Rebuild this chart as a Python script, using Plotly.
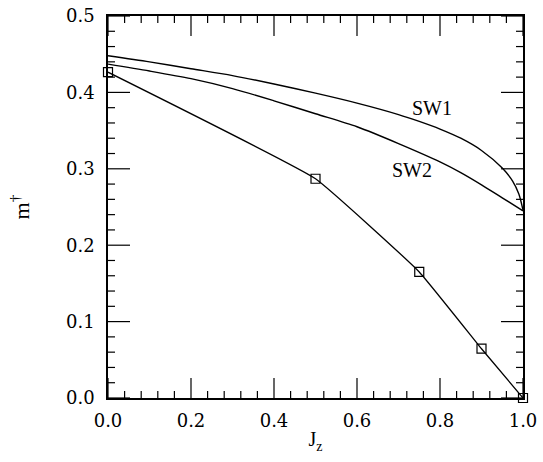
import plotly.graph_objects as go

# Data
jz_points = [0.0, 0.5, 0.75, 0.9, 1.0]
m_points = [0.4265, 0.287, 0.165, 0.0645, 0.0]

sw1_x = [0.0, 0.1, 0.2, 0.3, 0.4, 0.5, 0.6, 0.7, 0.75, 0.8, 0.85, 0.9, 0.95, 0.975, 0.99, 1.0]
sw1_y = [0.448, 0.440, 0.431, 0.422, 0.411, 0.399, 0.386, 0.371, 0.362, 0.352, 0.340, 0.324, 0.301, 0.284, 0.267, 0.246]

sw2_x = [0.0, 0.1, 0.2, 0.3, 0.4, 0.5, 0.6, 0.7, 0.8, 0.85, 0.9, 0.95, 1.0]
sw2_y = [0.437, 0.428, 0.418, 0.405, 0.389, 0.372, 0.355, 0.333, 0.309, 0.295, 0.279, 0.262, 0.245]

labels = ["SW1", "SW2"]
label_x = [0.78, 0.733]
label_y = [0.379, 0.298]

x_major = [0.0, 0.2, 0.4, 0.6, 0.8, 1.0]
x_minor = [0.04, 0.08, 0.12, 0.16, 0.24, 0.28, 0.32, 0.36, 0.44, 0.48, 0.52, 0.56,
           0.64, 0.68, 0.72, 0.76, 0.84, 0.88, 0.92, 0.96]
y_major = [0.0, 0.1, 0.2, 0.3, 0.4, 0.5]
y_minor = [0.02, 0.04, 0.06, 0.08, 0.12, 0.14, 0.16, 0.18, 0.22, 0.24, 0.26, 0.28,
           0.32, 0.34, 0.36, 0.38, 0.42, 0.44, 0.46, 0.48]

X_RANGE = [0.0, 1.0]
Y_RANGE = [0.0, 0.5]
W, H = 543, 462
ML, MR, MT, MB = 108, 20, 16, 64
PW, PH = W - ML - MR, H - MT - MB

fig = go.Figure()
fig.add_trace(go.Scatter(x=sw1_x, y=sw1_y, mode="lines", line=dict(color="black", width=1.4, shape="spline", smoothing=0.8), showlegend=False, hoverinfo="skip"))
fig.add_trace(go.Scatter(x=sw2_x, y=sw2_y, mode="lines", line=dict(color="black", width=1.4, shape="spline", smoothing=0.8), showlegend=False, hoverinfo="skip"))
fig.add_trace(go.Scatter(x=jz_points, y=m_points, mode="lines+markers",
                         line=dict(color="black", width=1.3, shape="spline", smoothing=0.3),
                         marker=dict(symbol="square-open", size=9, color="black", line=dict(width=1.2)),
                         cliponaxis=False, showlegend=False))

for t, x, y in zip(labels, label_x, label_y):
    fig.add_annotation(x=x, y=y, text=t, showarrow=False,
                       font=dict(family="Liberation Serif", size=20, color="black"))

# inside tick marks on all four sides, placed at the axis tick values
ypx = (Y_RANGE[1] - Y_RANGE[0]) / PH
xpx = (X_RANGE[1] - X_RANGE[0]) / PW
tx, ty = [], []
for vals, length in ((x_major, 20), (x_minor, 7)):
    for v in vals:
        tx += [v, v, None, v, v, None]
        ty += [Y_RANGE[0], Y_RANGE[0] + length * ypx, None, Y_RANGE[1], Y_RANGE[1] - length * ypx, None]
for vals, length in ((y_major, 22), (y_minor, 7)):
    for v in vals:
        tx += [X_RANGE[0], X_RANGE[0] + length * xpx, None, X_RANGE[1], X_RANGE[1] - length * xpx, None]
        ty += [v, v, None, v, v, None]
fig.add_trace(go.Scatter(x=tx, y=ty, mode="lines", line=dict(color="black", width=1.2),
                         showlegend=False, hoverinfo="skip", connectgaps=False))

tickfont = dict(family="DejaVu Serif", size=18, color="black")
fig.update_xaxes(range=X_RANGE, tickmode="array", tickvals=x_major, tickformat=".1f",
                 ticks="", showline=True, linecolor="black", linewidth=1.5, mirror=True,
                 showgrid=False, zeroline=False, tickfont=tickfont, ticklabelstandoff=6,
                 automargin=False,
                 title=dict(text="J<sub>z</sub>", font=dict(family="Liberation Serif", size=20, color="black"), standoff=2))
fig.update_yaxes(range=Y_RANGE, tickmode="array", tickvals=y_major, tickformat=".1f",
                 ticks="", showline=True, linecolor="black", linewidth=1.5, mirror=True,
                 showgrid=False, zeroline=False, tickfont=tickfont, ticklabelstandoff=8,
                 automargin=False,
                 title=dict(text="m<sup>†</sup>", font=dict(family="Liberation Serif", size=22, color="black"), standoff=30))

fig.update_layout(width=W, height=H, margin=dict(l=ML, r=MR, t=MT, b=MB),
                  plot_bgcolor="white", paper_bgcolor="white")
fig.write_html("out.html", config={"displayModeBar": False},
               post_script="document.body.style.margin='0';document.body.style.overflow='hidden';")
